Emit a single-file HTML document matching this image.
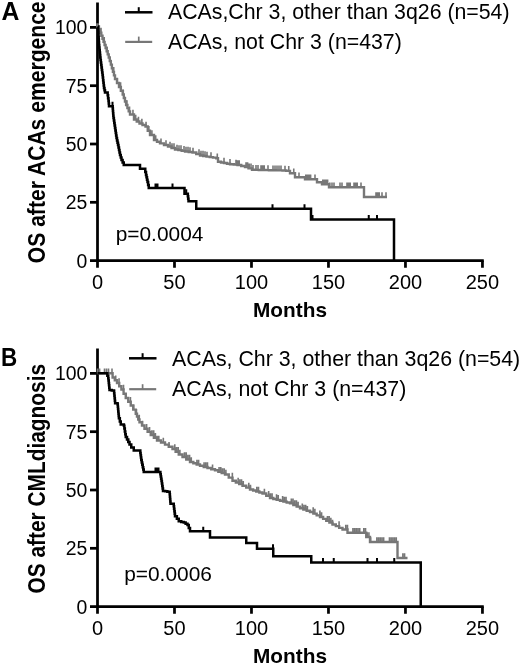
<!DOCTYPE html>
<html><head><meta charset="utf-8"><title>Figure</title>
<style>html,body{margin:0;padding:0;background:#fff;overflow:hidden}svg{display:block;position:absolute;left:0;top:0;will-change:transform;opacity:0.999}</style></head>
<body>
<svg width="520" height="665" viewBox="0 0 520 665">
<style>
text{font-family:"Liberation Sans",sans-serif;fill:#000}
.t{font-size:19.4px}
.b{font-size:20.8px;font-weight:bold}
.y{font-size:20.9px;font-weight:bold}
.L{font-size:25.4px;font-weight:bold}
.lg{font-size:21.3px}
</style>
<rect width="520" height="665" fill="#fff"/>
<path d="M97.50 2.50 V260.60 H483.77" fill="none" stroke="#000" stroke-width="2.75" stroke-linejoin="miter"/><path d="M90.00 27.40 H97.50" stroke="#000" stroke-width="2.75"/><text x="87.30" y="34.40" text-anchor="end" class="t">100</text><path d="M90.00 85.70 H97.50" stroke="#000" stroke-width="2.75"/><text x="87.30" y="92.70" text-anchor="end" class="t">75</text><path d="M90.00 144.00 H97.50" stroke="#000" stroke-width="2.75"/><text x="87.30" y="151.00" text-anchor="end" class="t">50</text><path d="M90.00 202.30 H97.50" stroke="#000" stroke-width="2.75"/><text x="87.30" y="209.30" text-anchor="end" class="t">25</text><path d="M90.00 260.60 H97.50" stroke="#000" stroke-width="2.75"/><text x="87.30" y="267.60" text-anchor="end" class="t">0</text><path d="M97.50 260.60 V267.75" stroke="#000" stroke-width="2.75"/><text x="97.50" y="289.30" text-anchor="middle" class="t" style="font-size:20px">0</text><path d="M174.49 260.60 V267.75" stroke="#000" stroke-width="2.75"/><text x="174.49" y="289.30" text-anchor="middle" class="t" style="font-size:20px">50</text><path d="M251.48 260.60 V267.75" stroke="#000" stroke-width="2.75"/><text x="251.48" y="289.30" text-anchor="middle" class="t" style="font-size:20px">100</text><path d="M328.47 260.60 V267.75" stroke="#000" stroke-width="2.75"/><text x="328.47" y="289.30" text-anchor="middle" class="t" style="font-size:20px">150</text><path d="M405.46 260.60 V267.75" stroke="#000" stroke-width="2.75"/><text x="405.46" y="289.30" text-anchor="middle" class="t" style="font-size:20px">200</text><path d="M482.45 260.60 V267.75" stroke="#000" stroke-width="2.75"/><text x="482.45" y="289.30" text-anchor="middle" class="t" style="font-size:20px">250</text><text x="290" y="316.60" text-anchor="middle" class="b">Months</text><path d="M97.75 26.50 L98.94 26.50 L98.94 29.56 L100.12 29.56 L100.12 32.62 L101.31 32.62 L101.31 35.69 L102.50 35.69 L102.50 38.75 L103.54 38.75 L103.54 41.88 L104.58 41.88 L104.58 45.00 L105.62 45.00 L105.62 48.12 L106.67 48.12 L106.67 51.25 L107.71 51.25 L107.71 54.38 L108.75 54.38 L108.75 57.50 L109.79 57.50 L109.79 61.08 L110.83 61.08 L110.83 64.67 L111.88 64.67 L111.88 68.25 L112.92 68.25 L112.92 71.83 L113.96 71.83 L113.96 75.42 L115.00 75.42 L115.00 79.00 L117.00 79.00 L117.00 83.00 L119.00 83.00 L119.00 87.00 L120.85 87.00 L120.85 90.75 L122.70 90.75 L122.70 94.50 L123.83 94.50 L123.83 98.00 L124.97 98.00 L124.97 101.50 L126.10 101.50 L126.10 105.00 L127.40 105.00 L127.40 108.17 L128.70 108.17 L128.70 111.33 L130.00 111.33 L130.00 114.50 L134.00 114.50 L134.00 119.50 L136.75 119.50 L136.75 121.50 L139.50 121.50 L139.50 123.50 L142.50 123.50 L142.50 125.00 L145.50 125.00 L145.50 126.50 L147.75 126.50 L147.75 130.75 L150.00 130.75 L150.00 135.00 L154.00 135.00 L154.00 140.00 L157.00 140.00 L157.00 141.70 L160.00 141.70 L160.00 143.40 L164.00 143.40 L164.00 144.95 L168.00 144.95 L168.00 146.50 L171.50 146.50 L171.50 148.00 L175.00 148.00 L175.00 149.50 L178.33 149.50 L178.33 150.17 L181.67 150.17 L181.67 150.83 L185.00 150.83 L185.00 151.50 L188.75 151.50 L188.75 152.00 L192.50 152.00 L192.50 152.50 L196.25 152.50 L196.25 154.00 L200.00 154.00 L200.00 155.50 L203.25 155.50 L203.25 156.04 L206.50 156.04 L206.50 156.58 L209.75 156.58 L209.75 157.12 L213.00 157.12 L213.00 157.66 L216.25 157.66 L216.25 158.20 L218.00 158.20 L218.00 161.80 L221.00 161.80 L221.00 162.43 L224.00 162.43 L224.00 163.05 L227.00 163.05 L227.00 163.68 L230.00 163.68 L230.00 164.30 L233.75 164.30 L233.75 164.65 L237.50 164.65 L237.50 165.00 L241.25 165.00 L241.25 166.00 L245.00 166.00 L245.00 167.00 L248.50 167.00 L248.50 168.40 L252.00 168.40 L252.00 169.80 L255.39 169.80 L255.39 169.88 L258.78 169.88 L258.78 169.96 L262.17 169.96 L262.17 170.03 L265.56 170.03 L265.56 170.11 L268.94 170.11 L268.94 170.19 L272.33 170.19 L272.33 170.27 L275.72 170.27 L275.72 170.34 L279.11 170.34 L279.11 170.42 L282.50 170.42 L282.50 170.50 L286.25 170.50 L286.25 170.90 L290.00 170.90 L290.00 171.30 L290.00 173.30 L295.00 173.30 L295.00 177.30 L305.00 177.30 L305.00 179.30 L316.00 179.30 L317.00 179.30 L317.00 182.30 L322.00 182.30 L322.00 184.30 L329.00 184.30 L329.00 187.20 L364.00 187.20 L364.00 197.00 L387.00 197.00" fill="none" stroke="#777777" stroke-width="2.40" stroke-linejoin="miter"/><path d="M101.00 33.12 v-5.30 M104.22 42.38 v-5.30 M107.10 51.75 v-5.30 M110.94 65.17 v-5.30 M113.68 72.33 v-5.30 M117.29 83.50 v-5.30 M120.59 87.50 v-5.30 M123.30 95.00 v-5.30 M126.86 105.50 v-5.30 M129.53 111.83 v-5.30 M132.96 115.00 v-5.30 M135.69 120.00 v-5.30 M138.46 122.00 v-5.30 M141.87 124.00 v-5.30 M146.04 127.00 v-5.30 M148.88 131.25 v-5.30 M151.90 135.50 v-5.30 M155.69 140.50 v-5.30 M161.00 143.90 v-5.30 M166.00 145.45 v-5.30 M170.00 147.00 v-5.30 M172.00 148.50 v-5.30 M174.00 148.50 v-5.30 M177.00 150.00 v-5.30 M179.00 150.67 v-5.30 M181.00 150.67 v-5.30 M184.00 151.33 v-5.30 M186.00 152.00 v-5.30 M188.00 152.00 v-5.30 M190.00 152.50 v-5.30 M193.00 153.00 v-5.30 M199.00 154.50 v-5.30 M201.00 156.00 v-5.30 M203.00 156.00 v-5.30 M205.00 156.54 v-5.30 M207.00 157.08 v-5.30 M211.00 157.62 v-5.30 M217.30 158.70 v-5.30 M224.00 162.93 v-5.30 M230.00 164.18 v-5.30 M236.00 165.15 v-5.30 M237.60 165.50 v-5.30 M239.20 165.50 v-5.30 M246.00 167.50 v-5.30 M247.60 167.50 v-5.30 M249.20 168.90 v-5.30 M251.00 168.90 v-5.30 M253.00 170.30 v-5.30 M256.00 170.38 v-5.30 M258.00 170.38 v-5.30 M261.00 170.46 v-5.30 M262.60 170.53 v-5.30 M264.20 170.53 v-5.30 M268.00 170.61 v-5.30 M273.00 170.77 v-5.30 M275.00 170.77 v-5.30 M277.00 170.84 v-5.30 M279.00 170.84 v-5.30 M281.00 170.92 v-5.30 M285.00 171.00 v-5.30 M288.75 171.40 v-5.30 M293.75 173.80 v-5.30 M299.00 177.80 v-5.30 M305.80 179.80 v-5.30 M307.40 179.80 v-5.30 M309.00 179.80 v-5.30 M310.60 179.80 v-5.30 M315.00 179.80 v-5.30 M322.80 184.80 v-5.30 M324.40 184.80 v-5.30 M326.00 184.80 v-5.30 M327.60 184.80 v-5.30 M329.80 187.70 v-5.30 M332.00 187.70 v-5.30 M334.00 187.70 v-5.30 M340.00 187.70 v-5.30 M342.00 187.70 v-5.30 M347.00 187.70 v-5.30 M348.60 187.70 v-5.30 M350.20 187.70 v-5.30 M354.00 187.70 v-5.30 M355.60 187.70 v-5.30 M357.20 187.70 v-5.30 M361.00 187.70 v-5.30 M376.00 197.50 v-5.30 M377.60 197.50 v-5.30 M379.20 197.50 v-5.30 M382.00 197.50 v-5.30 M386.00 197.50 v-5.30 " fill="none" stroke="#777777" stroke-width="1.6"/><path d="M97.5 23.3 V27.6" stroke="#777777" stroke-width="2.75"/><path d="M98.00 26.50 L98.14 26.50 L98.14 29.14 L98.29 29.14 L98.29 31.79 L98.43 31.79 L98.43 34.43 L98.57 34.43 L98.57 37.07 L98.71 37.07 L98.71 39.71 L98.86 39.71 L98.86 42.36 L99.00 42.36 L99.00 45.00 L99.25 45.00 L99.25 47.50 L99.50 47.50 L99.50 50.00 L99.75 50.00 L99.75 52.50 L100.00 52.50 L100.00 55.00 L100.25 55.00 L100.25 57.50 L100.50 57.50 L100.50 60.00 L100.83 60.00 L100.83 62.50 L101.17 62.50 L101.17 65.00 L101.50 65.00 L101.50 67.50 L101.83 67.50 L101.83 70.00 L102.17 70.00 L102.17 72.50 L102.50 72.50 L102.50 75.00 L102.80 75.00 L102.80 77.60 L103.10 77.60 L103.10 80.20 L103.40 80.20 L103.40 82.80 L103.70 82.80 L103.70 85.40 L104.00 85.40 L104.00 88.00 L104.50 88.00 L104.50 90.25 L105.00 90.25 L105.00 92.50 L107.25 92.50 L107.67 92.50 L107.67 95.33 L108.08 95.33 L108.08 98.17 L108.50 98.17 L108.50 101.00 L108.75 101.00 L108.75 103.62 L109.00 103.62 L109.00 106.25 L112.50 106.25 L112.70 106.25 L112.70 108.60 L112.90 108.60 L112.90 110.95 L113.10 110.95 L113.10 113.30 L113.30 113.30 L113.30 115.65 L113.50 115.65 L113.50 118.00 L113.88 118.00 L113.88 120.50 L114.25 120.50 L114.25 123.00 L114.62 123.00 L114.62 125.50 L115.00 125.50 L115.00 128.00 L115.38 128.00 L115.38 130.50 L115.75 130.50 L115.75 133.00 L116.12 133.00 L116.12 135.50 L116.50 135.50 L116.50 138.00 L117.00 138.00 L117.00 140.38 L117.50 140.38 L117.50 142.75 L118.00 142.75 L118.00 145.12 L118.50 145.12 L118.50 147.50 L119.00 147.50 L119.00 150.00 L119.50 150.00 L119.50 152.50 L120.00 152.50 L120.00 155.00 L120.75 155.00 L120.75 157.50 L121.50 157.50 L121.50 160.00 L122.62 160.00 L122.62 162.50 L123.75 162.50 L123.75 165.00 L140.00 165.00 L140.00 168.75 L144.50 168.75 L145.25 168.75 L145.25 171.88 L146.00 171.88 L146.00 175.00 L146.50 175.00 L146.50 177.33 L147.00 177.33 L147.00 179.67 L147.50 179.67 L147.50 182.00 L148.12 182.00 L148.12 185.00 L148.75 185.00 L148.75 188.00 L184.50 188.00 L184.50 193.75 L187.50 193.75 L187.83 193.75 L187.83 196.25 L188.17 196.25 L188.17 198.75 L188.50 198.75 L188.50 201.25 L196.25 201.25 L196.25 208.75 L311.00 208.75 L311.00 219.50 L394.00 219.50 L394.00 260.60" fill="none" stroke="#000" stroke-width="2.50" stroke-linejoin="miter"/><path d="M112.50 106.75 v-5.00 M155.50 188.50 v-5.00 M157.50 188.50 v-5.00 M172.50 188.50 v-5.00 M186.25 194.25 v-5.00 M272.50 209.25 v-5.00 M304.50 209.25 v-5.00 M312.50 220.00 v-5.00 M368.75 220.00 v-5.00 M377.00 220.00 v-5.00 " fill="none" stroke="#000" stroke-width="2"/><path d="M125 12.3 H152.5" stroke="#000" stroke-width="2.5" fill="none"/><path d="M138.75 12.3 V7.2" stroke="#000" stroke-width="2" fill="none"/><path d="M125.2 41.9 H152.2" stroke="#777777" stroke-width="2.2" fill="none"/><path d="M138.75 41.9 V36.6" stroke="#777777" stroke-width="1.7" fill="none"/><text x="168" y="19.3" class="lg" id="lgA1">ACAs,Chr 3, other than 3q26 (n=54)</text><text x="168" y="48.5" class="lg" id="lgA2">ACAs, not Chr 3 (n=437)</text><text x="115.7" y="241" class="t" id="pA" style="font-size:20.9px">p=0.0004</text><text transform="translate(1.6 19.5) scale(0.975 1)" class="L" id="LA">A</text><text transform="translate(44.9 263.2) rotate(-90) scale(1 1.1)" class="y" style="font-size:21.1px" id="yA">OS after ACAs emergence</text><path d="M97.50 348.60 V606.60 H483.77" fill="none" stroke="#000" stroke-width="2.75" stroke-linejoin="miter"/><path d="M90.00 373.40 H97.50" stroke="#000" stroke-width="2.75"/><text x="87.30" y="380.40" text-anchor="end" class="t">100</text><path d="M90.00 431.70 H97.50" stroke="#000" stroke-width="2.75"/><text x="87.30" y="438.70" text-anchor="end" class="t">75</text><path d="M90.00 490.00 H97.50" stroke="#000" stroke-width="2.75"/><text x="87.30" y="497.00" text-anchor="end" class="t">50</text><path d="M90.00 548.30 H97.50" stroke="#000" stroke-width="2.75"/><text x="87.30" y="555.30" text-anchor="end" class="t">25</text><path d="M90.00 606.60 H97.50" stroke="#000" stroke-width="2.75"/><text x="87.30" y="613.60" text-anchor="end" class="t">0</text><path d="M97.50 606.60 V613.75" stroke="#000" stroke-width="2.75"/><text x="97.50" y="635.30" text-anchor="middle" class="t" style="font-size:20px">0</text><path d="M174.49 606.60 V613.75" stroke="#000" stroke-width="2.75"/><text x="174.49" y="635.30" text-anchor="middle" class="t" style="font-size:20px">50</text><path d="M251.48 606.60 V613.75" stroke="#000" stroke-width="2.75"/><text x="251.48" y="635.30" text-anchor="middle" class="t" style="font-size:20px">100</text><path d="M328.47 606.60 V613.75" stroke="#000" stroke-width="2.75"/><text x="328.47" y="635.30" text-anchor="middle" class="t" style="font-size:20px">150</text><path d="M405.46 606.60 V613.75" stroke="#000" stroke-width="2.75"/><text x="405.46" y="635.30" text-anchor="middle" class="t" style="font-size:20px">200</text><path d="M482.45 606.60 V613.75" stroke="#000" stroke-width="2.75"/><text x="482.45" y="635.30" text-anchor="middle" class="t" style="font-size:20px">250</text><text x="290" y="662.50" text-anchor="middle" class="b">Months</text><path d="M97.50 373.30 L108.75 373.30 L112.60 373.30 L112.60 377.50 L114.80 377.50 L114.80 380.25 L117.00 380.25 L117.00 383.00 L119.20 383.00 L119.20 386.25 L121.40 386.25 L121.40 389.50 L123.58 389.50 L123.58 393.75 L125.75 393.75 L125.75 398.00 L128.25 398.00 L128.25 401.75 L130.75 401.75 L130.75 405.50 L133.25 405.50 L133.25 409.60 L135.75 409.60 L135.75 413.70 L137.00 413.70 L137.00 416.57 L138.25 416.57 L138.25 419.43 L139.50 419.43 L139.50 422.30 L142.00 422.30 L142.00 425.50 L144.50 425.50 L144.50 428.70 L147.62 428.70 L147.62 431.85 L150.75 431.85 L150.75 435.00 L153.88 435.00 L153.88 437.75 L157.00 437.75 L157.00 440.50 L161.00 440.50 L161.00 442.55 L165.00 442.55 L165.00 444.60 L168.75 444.60 L168.75 446.80 L172.50 446.80 L172.50 449.00 L175.62 449.00 L175.62 451.75 L178.75 451.75 L178.75 454.50 L182.50 454.50 L182.50 457.00 L186.25 457.00 L186.25 459.50 L190.00 459.50 L190.00 462.00 L193.33 462.00 L193.33 463.27 L196.67 463.27 L196.67 464.53 L200.00 464.53 L200.00 465.80 L203.75 465.80 L203.75 466.93 L207.50 466.93 L207.50 468.05 L211.25 468.05 L211.25 469.18 L215.00 469.18 L215.00 470.30 L218.33 470.30 L218.33 471.70 L221.67 471.70 L221.67 473.10 L225.00 473.10 L225.00 474.50 L228.75 474.50 L228.75 477.65 L232.50 477.65 L232.50 480.80 L235.83 480.80 L235.83 482.47 L239.17 482.47 L239.17 484.13 L242.50 484.13 L242.50 485.80 L246.25 485.80 L246.25 487.65 L250.00 487.65 L250.00 489.50 L253.12 489.50 L253.12 490.50 L256.25 490.50 L256.25 491.50 L259.38 491.50 L259.38 492.50 L262.50 492.50 L262.50 493.50 L266.25 493.50 L266.25 495.75 L270.00 495.75 L270.00 498.00 L273.33 498.00 L273.33 498.93 L276.67 498.93 L276.67 499.87 L280.00 499.87 L280.00 500.80 L283.33 500.80 L283.33 501.67 L286.67 501.67 L286.67 502.53 L290.00 502.53 L290.00 503.40 L293.33 503.40 L293.33 505.03 L296.67 505.03 L296.67 506.67 L300.00 506.67 L300.00 508.30 L303.33 508.30 L303.33 509.53 L306.67 509.53 L306.67 510.77 L310.00 510.77 L310.00 512.00 L313.33 512.00 L313.33 513.67 L316.67 513.67 L316.67 515.33 L320.00 515.33 L320.00 517.00 L323.12 517.00 L323.12 518.88 L326.25 518.88 L326.25 520.75 L329.38 520.75 L329.38 522.62 L332.50 522.62 L332.50 524.50 L335.83 524.50 L335.83 526.17 L339.17 526.17 L339.17 527.83 L342.50 527.83 L342.50 529.50 L347.50 529.50 L347.50 532.80 L363.75 532.80 L366.25 532.80 L366.25 537.00 L370.00 537.00 L370.00 542.00 L397.50 542.00 L397.50 558.00 L407.50 558.00" fill="none" stroke="#777777" stroke-width="2.40" stroke-linejoin="miter"/><path d="M97.60 373.80 v-5.30 M99.60 373.80 v-5.30 M104.50 373.80 v-5.30 M106.50 373.80 v-5.30 M108.50 373.80 v-5.30 M112.00 373.80 v-5.30 M115.70 380.75 v-5.30 M119.05 383.50 v-5.30 M123.51 390.00 v-5.30 M126.19 398.50 v-5.30 M130.42 402.25 v-5.30 M133.57 410.10 v-5.30 M136.45 414.20 v-5.30 M139.27 419.93 v-5.30 M142.46 426.00 v-5.30 M146.61 429.20 v-5.30 M149.55 432.35 v-5.30 M152.00 435.50 v-5.30 M153.70 435.50 v-5.30 M155.40 438.25 v-5.30 M157.10 441.00 v-5.30 M158.80 441.00 v-5.30 M163.32 443.05 v-5.30 M169.03 447.30 v-5.30 M174.79 449.50 v-5.30 M176.49 452.25 v-5.30 M178.19 452.25 v-5.30 M179.89 455.00 v-5.30 M184.47 457.50 v-5.30 M186.17 457.50 v-5.30 M187.87 460.00 v-5.30 M189.57 460.00 v-5.30 M191.27 462.50 v-5.30 M196.92 465.03 v-5.30 M198.62 465.03 v-5.30 M204.06 467.43 v-5.30 M205.76 467.43 v-5.30 M207.46 467.43 v-5.30 M212.55 469.68 v-5.30 M219.08 472.20 v-5.30 M220.78 472.20 v-5.30 M222.48 473.60 v-5.30 M224.18 473.60 v-5.30 M225.88 475.00 v-5.30 M232.35 478.15 v-5.30 M238.14 482.97 v-5.30 M239.84 484.63 v-5.30 M241.54 484.63 v-5.30 M243.24 486.30 v-5.30 M248.78 488.15 v-5.30 M250.48 490.00 v-5.30 M256.79 492.00 v-5.30 M258.49 492.00 v-5.30 M264.40 494.00 v-5.30 M268.68 496.25 v-5.30 M270.38 498.50 v-5.30 M272.08 498.50 v-5.30 M276.53 499.43 v-5.30 M278.23 500.37 v-5.30 M282.63 501.30 v-5.30 M284.33 502.17 v-5.30 M286.03 502.17 v-5.30 M291.32 503.90 v-5.30 M293.02 503.90 v-5.30 M294.72 505.53 v-5.30 M296.42 505.53 v-5.30 M298.12 507.17 v-5.30 M302.28 508.80 v-5.30 M303.98 510.03 v-5.30 M305.68 510.03 v-5.30 M307.38 511.27 v-5.30 M313.17 512.50 v-5.30 M314.87 514.17 v-5.30 M319.89 515.83 v-5.30 M321.59 517.50 v-5.30 M327.45 521.25 v-5.30 M329.15 521.25 v-5.30 M330.85 523.12 v-5.30 M332.55 525.00 v-5.30 M339.08 526.67 v-5.30 M345.75 530.00 v-5.30 M347.45 530.00 v-5.30 M352.92 533.30 v-5.30 M354.62 533.30 v-5.30 M356.32 533.30 v-5.30 M358.02 533.30 v-5.30 M359.72 533.30 v-5.30 M363.83 533.30 v-5.30 M365.53 533.30 v-5.30 M367.23 537.50 v-5.30 M368.93 537.50 v-5.30 M370.63 542.50 v-5.30 M376.85 542.50 v-5.30 M378.55 542.50 v-5.30 M380.25 542.50 v-5.30 M381.95 542.50 v-5.30 M383.65 542.50 v-5.30 M389.46 542.50 v-5.30 M391.16 542.50 v-5.30 M392.86 542.50 v-5.30 M394.56 542.50 v-5.30 M396.26 542.50 v-5.30 M402.87 558.50 v-5.30 M404.57 558.50 v-5.30 " fill="none" stroke="#777777" stroke-width="1.6"/><path d="M97.50 373.30 L106.40 373.30 L107.33 373.30 L107.33 375.77 L108.25 375.77 L108.25 378.25 L108.50 378.25 L108.50 380.60 L108.75 380.60 L108.75 382.95 L109.00 382.95 L109.00 385.30 L109.25 385.30 L109.25 387.65 L109.50 387.65 L109.50 390.00 L111.70 390.00 L111.70 390.38 L113.90 390.38 L113.90 390.75 L114.14 390.75 L114.14 393.25 L114.38 393.25 L114.38 395.75 L114.62 395.75 L114.62 398.25 L114.86 398.25 L114.86 400.75 L115.10 400.75 L115.10 403.25 L117.60 403.25 L117.60 404.50 L117.82 404.50 L117.82 406.79 L118.03 406.79 L118.03 409.08 L118.25 409.08 L118.25 411.38 L118.47 411.38 L118.47 413.67 L118.68 413.67 L118.68 415.96 L118.90 415.96 L118.90 418.25 L119.83 418.25 L119.83 421.38 L120.75 421.38 L120.75 424.50 L123.90 424.50 L123.90 425.75 L124.36 425.75 L124.36 428.56 L124.83 428.56 L124.83 431.38 L125.29 431.38 L125.29 434.19 L125.75 434.19 L125.75 437.00 L127.00 437.00 L127.00 439.50 L128.25 439.50 L128.25 442.00 L129.50 442.00 L129.50 444.50 L131.25 444.50 L131.25 447.50 L133.75 447.50 L133.75 450.50 L140.00 450.50 L140.31 450.50 L140.31 452.88 L140.62 452.88 L140.62 455.25 L140.94 455.25 L140.94 457.62 L141.25 457.62 L141.25 460.00 L141.75 460.00 L141.75 462.40 L142.25 462.40 L142.25 464.80 L142.75 464.80 L142.75 467.20 L143.25 467.20 L143.25 469.60 L143.75 469.60 L143.75 472.00 L160.00 472.00 L160.38 472.00 L160.38 474.25 L160.75 474.25 L160.75 476.50 L161.12 476.50 L161.12 478.75 L161.50 478.75 L161.50 481.00 L161.88 481.00 L161.88 483.50 L162.25 483.50 L162.25 486.00 L162.62 486.00 L162.62 488.50 L163.00 488.50 L163.00 491.00 L165.17 491.00 L165.17 491.33 L167.33 491.33 L167.33 491.67 L169.50 491.67 L169.50 492.00 L169.70 492.00 L169.70 494.35 L169.90 494.35 L169.90 496.70 L170.10 496.70 L170.10 499.05 L170.30 499.05 L170.30 501.40 L170.50 501.40 L170.50 503.75 L173.75 503.75 L173.75 506.25 L174.06 506.25 L174.06 508.75 L174.38 508.75 L174.38 511.25 L174.69 511.25 L174.69 513.75 L175.00 513.75 L175.00 516.25 L176.88 516.25 L176.88 518.75 L178.75 518.75 L178.75 521.25 L181.25 521.25 L181.25 521.88 L183.75 521.88 L183.75 522.50 L185.62 522.50 L185.62 523.75 L187.50 523.75 L187.50 525.00 L188.75 525.00 L188.75 528.12 L190.00 528.12 L190.00 531.25 L210.00 531.25 L210.00 537.50 L246.25 537.50 L246.25 543.00 L257.00 543.00 L257.00 548.75 L273.25 548.75 L273.25 556.25 L311.25 556.25 L311.25 562.50 L420.75 562.50 L420.75 606.50" fill="none" stroke="#000" stroke-width="2.50" stroke-linejoin="miter"/><path d="M155.50 472.50 v-5.00 M157.00 472.50 v-5.00 M158.50 472.50 v-5.00 M203.25 531.75 v-5.00 M273.00 549.25 v-5.00 M323.00 563.00 v-5.00 M333.75 563.00 v-5.00 M367.50 563.00 v-5.00 M377.00 563.00 v-5.00 M394.25 563.00 v-5.00 " fill="none" stroke="#000" stroke-width="2"/><path d="M129 358.3 H156.5" stroke="#000" stroke-width="2.5" fill="none"/><path d="M142.6 358.3 V353.2" stroke="#000" stroke-width="2" fill="none"/><path d="M129.2 389.2 H156.2" stroke="#777777" stroke-width="2.2" fill="none"/><path d="M142.6 389.2 V384.2" stroke="#777777" stroke-width="1.7" fill="none"/><text x="172" y="365.5" class="lg" style="font-size:21.35px" id="lgB1">ACAs, Chr 3, other than 3q26 (n=54)</text><text x="172" y="396" class="lg" style="font-size:21.35px" id="lgB2">ACAs, not Chr 3 (n=437)</text><text x="124.2" y="581" class="t" id="pB" style="font-size:20.9px">p=0.0006</text><text transform="translate(0.9 366) scale(0.885 1)" class="L" id="LB">B</text><text transform="translate(44.9 593.6) rotate(-90) scale(1 1.1)" class="y" id="yB">OS after CMLdiagnosis</text></svg>
</body></html>
